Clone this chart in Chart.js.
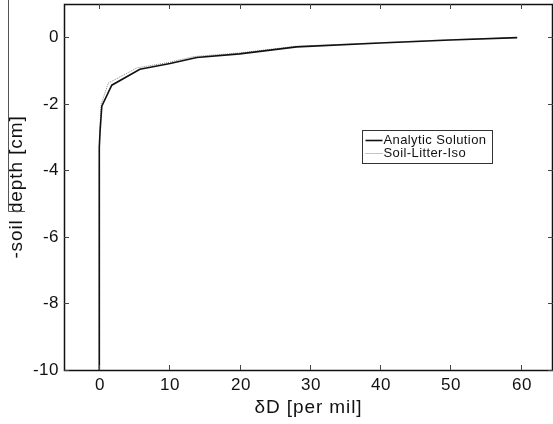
<!DOCTYPE html>
<html>
<head>
<meta charset="utf-8">
<script src="https://cdn.jsdelivr.net/npm/chart.js@4.4.1/dist/chart.umd.min.js"></script>
<style>
  html, body { margin: 0; padding: 0; background: #fff; }
  #wrap { width: 553px; height: 424px; }
</style>
</head>
<body>
<div id="wrap"><canvas id="grafico" width="553" height="424"></canvas></div>
<script>
// Perfil deltaD vs profundidad
const dDAnalytic    = [0, 0, 0.05, 0.14, 0.38, 1.8, 5.8, 10.1, 13.9, 20, 28.1, 40, 50, 59.5];
const depthAnalytic = [-10, -4, -3.3, -2.8, -2.07, -1.44, -0.96, -0.79, -0.61, -0.5, -0.29, -0.17, -0.08, -0.01];

const dDIso    = [0, 0, 0.04, 0.1, 0.3, 1.3, 5.4, 9.8, 13.5, 20, 28, 40, 50, 59.5];
const depthIso = [-10, -4, -3.3, -2.8, -2.0, -1.38, -0.92, -0.76, -0.58, -0.47, -0.27, -0.16, -0.07, -0.01];

const xTicks = [0, 10, 20, 30, 40, 50, 60];
const yTicks = [0, -2, -4, -6, -8, -10];

const toPts = (xs, ys) => xs.map((x, i) => ({ x: x, y: ys[i] }));
const fuente = "'Liberation Sans', Arial, sans-serif";

// Marco, ticks hacia adentro, textos y leyenda
const marco = {
  id: "marco",
  afterDatasetsDraw(chart) {
    const { ctx, chartArea: a, scales } = chart;
    ctx.save();
    ctx.strokeStyle = "#111";
    ctx.lineWidth = 1.5;
    ctx.strokeRect(a.left + 0.5, a.top + 0.5, a.right - a.left - 1, a.bottom - a.top);

    ctx.lineWidth = 1;
    ctx.strokeStyle = "#444";
    ctx.fillStyle = "#111";
    ctx.font = "17px " + fuente;
    ctx.letterSpacing = "0.5px";
    const len = 5;
    ctx.textAlign = "center";
    ctx.textBaseline = "middle";
    xTicks.forEach(v => {
      const px = Math.round(scales.x.getPixelForValue(v)) + 0.5;
      ctx.beginPath();
      ctx.moveTo(px, a.bottom); ctx.lineTo(px, a.bottom - len);
      ctx.moveTo(px, a.top); ctx.lineTo(px, a.top + len);
      ctx.stroke();
      ctx.fillText(String(v), px + 0.5, a.bottom + 15);
    });
    ctx.textAlign = "right";
    yTicks.forEach(v => {
      const py = Math.round(scales.y.getPixelForValue(v)) + 0.5;
      ctx.beginPath();
      ctx.moveTo(a.left, py); ctx.lineTo(a.left + len, py);
      ctx.moveTo(a.right, py); ctx.lineTo(a.right - len, py);
      ctx.stroke();
      ctx.fillText(String(v), a.left - 5, py);
    });

    // Titulos de ejes
    ctx.font = "19px " + fuente;
    ctx.letterSpacing = "0.9px";
    ctx.textAlign = "center";
    ctx.fillText("δD [per mil]", (a.left + a.right) / 2, a.bottom + 38);
    ctx.save();
    ctx.translate(17, (a.top + a.bottom) / 2);
    ctx.rotate(-Math.PI / 2);
    ctx.fillText("-soil depth [cm]", 0, 0);
    ctx.restore();

    // Leyenda
    const bx = 362.5, by = 130.5, bw = 130, bh = 33;
    ctx.fillStyle = "#fff";
    ctx.fillRect(bx, by, bw, bh);
    ctx.strokeStyle = "#333";
    ctx.lineWidth = 1;
    ctx.strokeRect(bx, by, bw, bh);
    ctx.font = "13px " + fuente;
    ctx.letterSpacing = "0.4px";
    ctx.textAlign = "left";
    ctx.fillStyle = "#111";
    chart.data.datasets.forEach((ds, i) => {
      const yy = by + 10 + i * 13;
      ctx.beginPath();
      ctx.strokeStyle = ds.borderColor;
      ctx.lineWidth = ds.borderWidth;
      ctx.setLineDash(ds.borderDash || []);
      ctx.moveTo(bx + 3, yy); ctx.lineTo(bx + 20, yy);
      ctx.stroke();
      ctx.setLineDash([]);
      ctx.fillText(ds.label, bx + 21, yy);
    });

    // linea suelta junto al titulo del eje y (como en la imagen)
    ctx.strokeStyle = "#555";
    ctx.lineWidth = 1;
    ctx.beginPath();
    ctx.moveTo(8.5, 0); ctx.lineTo(8.5, 211.5); ctx.lineTo(25, 211.5);
    ctx.stroke();
    ctx.restore();
  }
};

const ajusta = (s, lado, tam) => {
  s[lado] = tam;
  s.paddingTop = 0; s.paddingBottom = 0; s.paddingLeft = 0; s.paddingRight = 0;
};

new Chart(document.getElementById("grafico"), {
  type: "scatter",
  data: {
    datasets: [
      {
        label: "Analytic Solution",
        data: toPts(dDAnalytic, depthAnalytic),
        showLine: true,
        borderColor: "#111",
        borderWidth: 1.6,
        pointRadius: 0,
        tension: 0
      },
      {
        label: "Soil-Litter-Iso",
        data: toPts(dDIso, depthIso),
        showLine: true,
        borderColor: "#888",
        borderWidth: 1,
        borderDash: [1, 1],
        pointRadius: 0,
        tension: 0
      }
    ]
  },
  options: {
    responsive: false,
    animation: false,
    layout: { padding: { top: 4, right: 0, left: 0, bottom: 0 } },
    plugins: { legend: { display: false }, tooltip: { enabled: false } },
    scales: {
      x: {
        type: "linear",
        min: -5, max: 64.6,
        afterFit: s => ajusta(s, "height", 54),
        grid: { display: false, drawTicks: false },
        border: { display: false },
        ticks: { display: false }
      },
      y: {
        type: "linear",
        min: -10, max: 1,
        afterFit: s => ajusta(s, "width", 64),
        grid: { display: false, drawTicks: false },
        border: { display: false },
        ticks: { display: false }
      }
    }
  },
  plugins: [marco]
});
</script>
</body>
</html>
